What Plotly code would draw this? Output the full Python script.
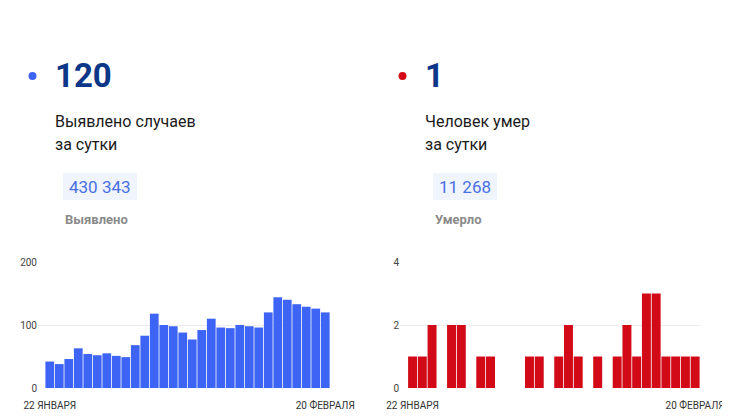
import plotly.graph_objects as go

days = ["22.01", "23.01", "24.01", "25.01", "26.01", "27.01", "28.01", "29.01", "30.01", "31.01",
        "01.02", "02.02", "03.02", "04.02", "05.02", "06.02", "07.02", "08.02", "09.02", "10.02",
        "11.02", "12.02", "13.02", "14.02", "15.02", "16.02", "17.02", "18.02", "19.02", "20.02"]
cases = [42, 38, 46, 63, 54, 52, 55, 51, 49, 68,
         83, 118, 100, 98, 88, 77, 92, 110, 96, 95,
         100, 98, 96, 120, 144, 140, 133, 129, 126, 120]
deaths = [1, 1, 2, 0, 2, 2, 0, 1, 1, 0,
          0, 0, 1, 1, 0, 1, 2, 1, 0, 1,
          0, 1, 2, 1, 3, 3, 1, 1, 1, 1]
tick_labels = ["22 ЯНВАРЯ", "20 ФЕВРАЛЯ"]
cases_today = "120"
deaths_today = "1"
cases_total = "430 343"
deaths_total = "11 268"

# page body has an 8px margin, so the figure starts at (8, 8) in the window
OFF = 8
W, H = 730 - OFF, 416 - OFF
BLUE = "#3d64f4"
RED = "#d20a17"
NAVY = "#0c3788"

fig = go.Figure()
fig.add_trace(go.Bar(x=days, y=cases, marker=dict(color=BLUE, line=dict(width=0)),
                     xaxis="x", yaxis="y", hoverinfo="x+y"))
fig.add_trace(go.Bar(x=days, y=deaths, marker=dict(color=RED, line=dict(width=0)),
                     xaxis="x2", yaxis="y2", hoverinfo="x+y"))

def px(x):
    return (x - OFF) / W

def py(y):
    return 1 - (y - OFF) / H

xcommon = dict(type="category", showgrid=False, zeroline=False, showline=False,
               tickmode="array", tickvals=[days[0], days[-1]], ticktext=tick_labels,
               ticks="outside", ticklen=8, tickcolor="rgba(0,0,0,0)",
               tickfont=dict(family="Roboto, Arial, sans-serif", size=10, color="#333"),
               fixedrange=True, automargin=False)
ycommon = dict(showgrid=True, gridcolor="#ececec", gridwidth=1, zeroline=False, showline=False,
               ticks="", tickfont=dict(family="Roboto, Arial, sans-serif", size=10, color="#444"),
               fixedrange=True, automargin=False)

fig.update_layout(
    width=W, height=H,
    margin=dict(l=0, r=0, t=0, b=0, autoexpand=False),
    paper_bgcolor="white", plot_bgcolor="white",
    showlegend=False, bargap=0.08,
    xaxis=dict(domain=[px(38), px(330)], range=[-1.24, 29.5], anchor="y", **xcommon),
    yaxis=dict(domain=[py(388), py(262)], range=[0, 200], tickvals=[0, 100, 200], anchor="x", **ycommon),
    xaxis2=dict(domain=[px(400), px(700)], range=[-1.29, 29.5], anchor="y2", **xcommon),
    yaxis2=dict(domain=[py(388), py(262)], range=[0, 4], tickvals=[0, 2, 4], anchor="x2", **ycommon),
)

font_main = "Roboto, Arial, sans-serif"
panels = [
    dict(dot=BLUE, num=cases_today, line1="Выявлено случаев", total=cases_total,
         label="Выявлено", dotx=32.5, numx=53, textx=53, boxx=(63, 137), labx=63),
    dict(dot=RED, num=deaths_today, line1="Человек умер", total=deaths_total,
         label="Умерло", dotx=402.5, numx=423, textx=423, boxx=(433, 497), labx=433),
]

shapes = []
annotations = []
for p in panels:
    shapes.append(dict(type="circle", xref="paper", yref="paper",
                       x0=px(p["dotx"] - 4), x1=px(p["dotx"] + 4),
                       y0=py(76 + 4), y1=py(76 - 4),
                       fillcolor=p["dot"], line=dict(width=0)))
    shapes.append(dict(type="rect", xref="paper", yref="paper",
                       x0=px(p["boxx"][0]), x1=px(p["boxx"][1]),
                       y0=py(200), y1=py(173),
                       fillcolor="#eff4fd", line=dict(width=0), layer="below"))
    annotations += [
        dict(text="<b>%s</b>" % p["num"], x=px(p["numx"]), y=py(76), xref="paper", yref="paper",
             xanchor="left", yanchor="middle", showarrow=False,
             font=dict(family=font_main, size=33, color=NAVY)),
        dict(text=p["line1"], x=px(p["textx"]), y=py(121), xref="paper", yref="paper",
             xanchor="left", yanchor="middle", showarrow=False,
             font=dict(family=font_main, size=16, color="#1a1a1a")),
        dict(text="за сутки", x=px(p["textx"]), y=py(145), xref="paper", yref="paper",
             xanchor="left", yanchor="middle", showarrow=False,
             font=dict(family=font_main, size=16, color="#1a1a1a")),
        dict(text=p["total"], x=px((p["boxx"][0] + p["boxx"][1]) / 2), y=py(186.5), xref="paper", yref="paper",
             xanchor="center", yanchor="middle", showarrow=False,
             font=dict(family=font_main, size=17, color="#4a6fe3")),
        dict(text="<b>%s</b>" % p["label"], x=px(p["labx"]), y=py(219), xref="paper", yref="paper",
             xanchor="left", yanchor="middle", showarrow=False,
             font=dict(family=font_main, size=13, color="#8a8a8a")),
    ]

fig.update_layout(shapes=shapes, annotations=annotations)
fig.write_html("out.html", config=dict(displayModeBar=False))
